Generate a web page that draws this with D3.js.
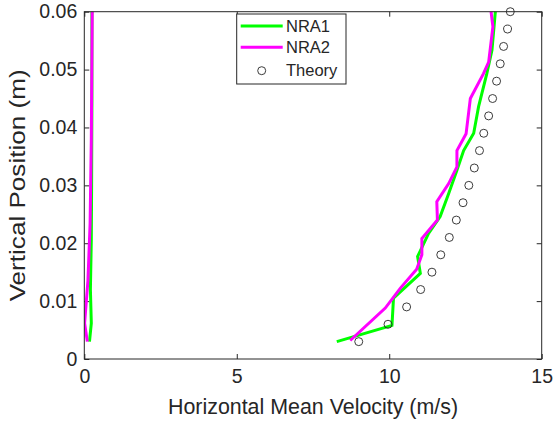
<!DOCTYPE html>
<html>
<head>
<meta charset="utf-8">
<script src="https://cdn.jsdelivr.net/npm/d3@7"></script>
<style>
  html, body { margin: 0; padding: 0; background: #fff; }
  svg { display: block; font-family: "Liberation Sans", Arial, Helvetica, sans-serif; }
</style>
</head>
<body>
<svg id="chart" width="554" height="423"></svg>
<script>
// ---- data ----
const xTicks = [0, 5, 10, 15];
const xTickLabels = ["0", "5", "10", "15"];
const yTicks = [0, 0.01, 0.02, 0.03, 0.04, 0.05, 0.06];
const yTickLabels = ["0", "0.01", "0.02", "0.03", "0.04", "0.05", "0.06"];

const theoryY = [0.003, 0.006, 0.009, 0.012, 0.015, 0.018, 0.021, 0.024, 0.027, 0.030,
                 0.033, 0.036, 0.039, 0.042, 0.045, 0.048, 0.051, 0.054, 0.057, 0.060];
const theoryU = [9.00, 9.96, 10.57, 11.03, 11.40, 11.69, 11.97, 12.20, 12.42, 12.61,
                 12.79, 12.96, 13.10, 13.26, 13.39, 13.52, 13.64, 13.75, 13.88, 13.97];

// NRA1 (green) outer profile
const nra1RightU = [8.28, 10.09, 10.14, 11.02, 10.93, 11.29, 11.67, 11.95, 12.22, 12.44, 12.77, 12.93, 13.20, 13.37, 13.48];
const nra1RightY = [0.0030, 0.0058, 0.0105, 0.0148, 0.0177, 0.0217, 0.0246, 0.0286, 0.0326, 0.0360, 0.0390, 0.0436, 0.0493, 0.0534, 0.0600];
// NRA1 (green) near-wall profile
const nra1LeftU = [0.17, 0.23, 0.20, 0.23, 0.24, 0.25, 0.25];
const nra1LeftY = [0.0030, 0.0062, 0.0120, 0.0206, 0.0300, 0.0450, 0.0600];

// NRA2 (magenta) outer profile
const nra2RightU = [8.72, 9.87, 10.36, 10.90, 11.07, 11.07, 11.58, 11.56, 11.95, 12.22, 12.22, 12.52, 12.66, 13.09, 13.26, 13.40, 13.34];
const nra2RightY = [0.0032, 0.0088, 0.0122, 0.0155, 0.0180, 0.0208, 0.0240, 0.0272, 0.0303, 0.0332, 0.0360, 0.0389, 0.0450, 0.0493, 0.0513, 0.0574, 0.0600];
// NRA2 (magenta) near-wall profile
const nra2LeftU = [0.10, 0.01, 0.12, 0.19, 0.23, 0.26];
const nra2LeftY = [0.0030, 0.0062, 0.0136, 0.0234, 0.0380, 0.0600];

const seriesNames = ["NRA1", "NRA2", "Theory"];
const seriesColors = ["#00ff00", "#ff00ff", "#262626"];

// ---- layout ----
const svg = d3.select("#chart");
const L = 84.3, R = 541.7, T = 11.7, B = 359;
const axisColor = "#262626";

const x = d3.scaleLinear().domain([0, 15]).range([L, R]);
const y = d3.scaleLinear().domain([0, 0.06]).range([B, T]);

svg.append("rect").attr("x", L).attr("y", T).attr("width", R - L).attr("height", B - T).attr("fill", "#fff");

const tickLen = 5;
const fontTick = 19.5;

const gx = svg.append("g").attr("transform", `translate(0,${B})`)
  .call(d3.axisBottom(x).tickValues(xTicks).tickFormat((d, i) => xTickLabels[i]).tickSizeInner(-tickLen).tickSizeOuter(0).tickPadding(10));
const gxTop = svg.append("g").attr("transform", `translate(0,${T})`)
  .call(d3.axisTop(x).tickValues(xTicks).tickFormat("").tickSizeInner(-tickLen).tickSizeOuter(0));
const gy = svg.append("g").attr("transform", `translate(${L},0)`)
  .call(d3.axisLeft(y).tickValues(yTicks).tickFormat((d, i) => yTickLabels[i]).tickSizeInner(-tickLen).tickSizeOuter(0).tickPadding(7));
const gyRight = svg.append("g").attr("transform", `translate(${R},0)`)
  .call(d3.axisRight(y).tickValues(yTicks).tickFormat("").tickSizeInner(-tickLen).tickSizeOuter(0));

[gx, gxTop, gy, gyRight].forEach(g => {
  g.select(".domain").remove();
  g.selectAll(".tick line").attr("stroke", axisColor).attr("stroke-width", 1);
  g.selectAll(".tick text").attr("fill", axisColor).style("font-size", fontTick + "px")
    .style("font-family", '"Liberation Sans", Arial, sans-serif');
});

svg.append("clipPath").attr("id", "clip").append("rect")
  .attr("x", L).attr("y", T - 2).attr("width", R - L).attr("height", B - T + 2);

const plot = svg.append("g").attr("clip-path", "url(#clip)");
const line = d3.line().x(d => x(d[0])).y(d => y(d[1]));

function drawLine(us, ys, color) {
  plot.append("path")
    .datum(us.map((u, i) => [u, ys[i]]))
    .attr("d", line)
    .attr("fill", "none")
    .attr("stroke", color)
    .attr("stroke-width", 3)
    .attr("stroke-linejoin", "miter");
}
drawLine(nra1LeftU, nra1LeftY, seriesColors[0]);
drawLine(nra1RightU, nra1RightY, seriesColors[0]);
drawLine(nra2LeftU, nra2LeftY, seriesColors[1]);
drawLine(nra2RightU, nra2RightY, seriesColors[1]);

svg.append("g").selectAll("circle")
  .data(theoryU.map((u, i) => [u, theoryY[i]]))
  .join("circle")
  .attr("cx", d => x(d[0]))
  .attr("cy", d => y(d[1]))
  .attr("r", 4)
  .attr("fill", "none")
  .attr("stroke", "#262626")
  .attr("stroke-width", 0.9);

svg.append("rect").attr("x", L).attr("y", T).attr("width", R - L).attr("height", B - T)
  .attr("fill", "none").attr("stroke", axisColor).attr("stroke-width", 1);

svg.append("text")
  .attr("x", (L + R) / 2).attr("y", 414)
  .attr("text-anchor", "middle")
  .attr("fill", axisColor)
  .style("font-size", "21.4px")
  .text("Horizontal Mean Velocity (m/s)");

svg.append("text")
  .attr("transform", `translate(25,${(T + B) / 2}) rotate(-90)`)
  .attr("text-anchor", "middle")
  .attr("fill", axisColor)
  .style("font-size", "21.4px")
  .attr("textLength", 232)
  .attr("lengthAdjust", "spacingAndGlyphs")
  .text("Vertical Position (m)");

// legend
const lg = svg.append("g");
const lx = 236.7, ly = 14, lw = 109.3, lh = 70;
lg.append("rect").attr("x", lx).attr("y", ly).attr("width", lw).attr("height", lh)
  .attr("fill", "#fff").attr("stroke", axisColor).attr("stroke-width", 1);
const rowY = [26, 47.3, 70.7];
seriesNames.forEach((name, i) => {
  if (i < 2) {
    lg.append("line").attr("x1", 240.7).attr("x2", 282.7).attr("y1", rowY[i]).attr("y2", rowY[i])
      .attr("stroke", seriesColors[i]).attr("stroke-width", 3);
  } else {
    lg.append("circle").attr("cx", 261.7).attr("cy", rowY[i]).attr("r", 4)
      .attr("fill", "none").attr("stroke", seriesColors[i]).attr("stroke-width", 0.9);
  }
  lg.append("text").attr("x", 286).attr("y", rowY[i]).attr("dy", "0.35em")
    .attr("fill", axisColor).style("font-size", "16.5px").text(name);
});
</script>
</body>
</html>
